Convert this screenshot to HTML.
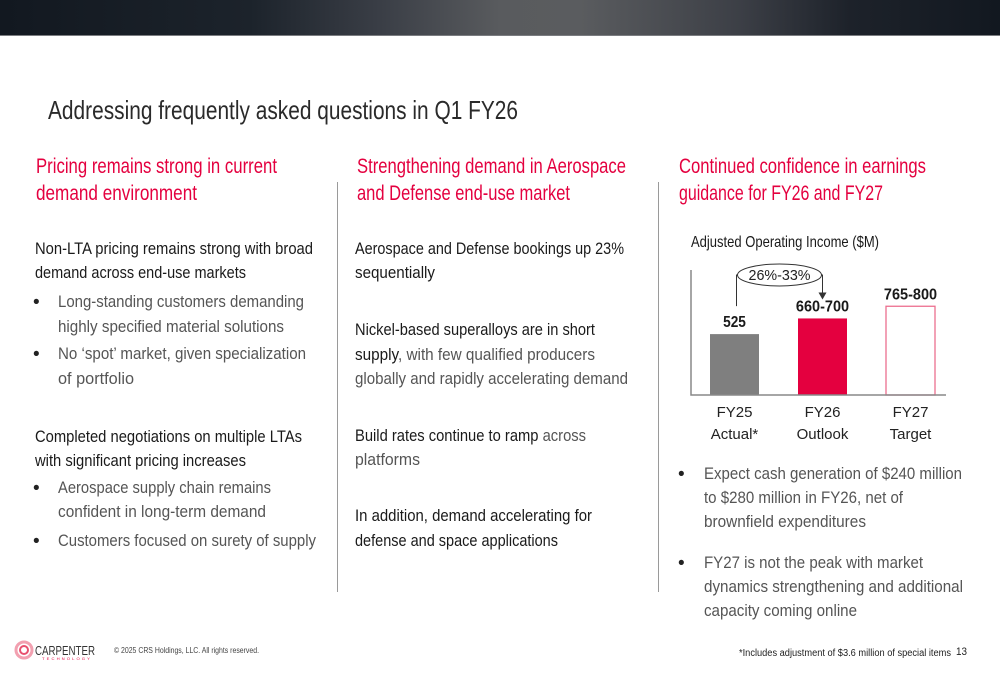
<!DOCTYPE html>
<html><head><meta charset="utf-8">
<style>
html,body{margin:0;padding:0;}
body{width:1000px;height:685px;position:relative;overflow:hidden;background:#fff;font-family:"Liberation Sans Narrow","Liberation Sans",sans-serif;}
#hdr{position:absolute;left:0;top:0;width:1000px;height:35px;background:linear-gradient(90deg,#121820 0%,#1c232b 25%,#3a3e46 38%,#595b5e 50%,#5a5c5f 58%,#3c3f46 74%,#1d222a 85%,#121820 100%);border-bottom:1px solid #7a7c80;}
.ln{position:absolute;white-space:nowrap;transform-origin:0 50%;line-height:1;}
.t{font-size:26px;color:#2a2a2a;}
.h{font-size:21px;color:#e4003f;}
.b{font-size:17px;color:#1a1a1a;}
.l{font-size:17px;color:#555;}
.s{color:#1a1a1a;}
.div{position:absolute;width:1px;background:#9a9a9a;top:182px;height:410px;}
.bul{position:absolute;font-size:19px;color:#222;line-height:1;}
</style></head><body>
<div id="hdr"></div>
<div class="ln t" data-w="470" style="left:48px;top:97px">Addressing frequently asked questions in Q1 FY26</div>

<div class="div" style="left:337px"></div>
<div class="div" style="left:658px"></div>

<!-- column 1 -->
<div class="ln h" data-w="241" style="left:36px;top:156px">Pricing remains strong in current</div>
<div class="ln h" data-w="161" style="left:36px;top:183px">demand environment</div>
<div class="ln b" data-w="278" style="left:35px;top:240px">Non-LTA pricing remains strong with broad</div>
<div class="ln b" data-w="211" style="left:35px;top:264px">demand across end-use markets</div>
<div class="bul" style="left:33px;top:293px">•</div>
<div class="ln l" data-w="246" style="left:58px;top:293px">Long-standing customers demanding</div>
<div class="ln l" data-w="226" style="left:58px;top:318px">highly specified material solutions</div>
<div class="bul" style="left:33px;top:345px">•</div>
<div class="ln l" data-w="248" style="left:58px;top:345px">No ‘spot’ market, given specialization</div>
<div class="ln l" data-w="76" style="left:58px;top:370px">of portfolio</div>
<div class="ln b" data-w="267" style="left:35px;top:428px">Completed negotiations on multiple LTAs</div>
<div class="ln b" data-w="211" style="left:35px;top:452px">with significant pricing increases</div>
<div class="bul" style="left:33px;top:479px">•</div>
<div class="ln l" data-w="213" style="left:58px;top:479px">Aerospace supply chain remains</div>
<div class="ln l" data-w="208" style="left:58px;top:503px">confident in long-term demand</div>
<div class="bul" style="left:33px;top:532px">•</div>
<div class="ln l" data-w="258" style="left:58px;top:532px">Customers focused on surety of supply</div>

<!-- column 2 -->
<div class="ln h" data-w="269" style="left:357px;top:156px">Strengthening demand in Aerospace</div>
<div class="ln h" data-w="213" style="left:357px;top:183px">and Defense end-use market</div>
<div class="ln b" data-w="269" style="left:355px;top:240px">Aerospace and Defense bookings up 23%</div>
<div class="ln b" data-w="80" style="left:355px;top:264px">sequentially</div>
<div class="ln b" data-w="240" style="left:355px;top:321px">Nickel-based superalloys are in short</div>
<div class="ln l" data-w="240" style="left:355px;top:346px"><span class="s">supply</span>, with few qualified producers</div>
<div class="ln l" data-w="273" style="left:355px;top:370px">globally and rapidly accelerating demand</div>
<div class="ln l" data-w="231" style="left:355px;top:427px"><span class="s">Build rates continue to ramp</span> across</div>
<div class="ln l" data-w="65" style="left:355px;top:451px">platforms</div>
<div class="ln b" data-w="237" style="left:355px;top:507px">In addition, demand accelerating for</div>
<div class="ln b" data-w="203" style="left:355px;top:532px">defense and space applications</div>

<!-- column 3 -->
<div class="ln h" data-w="247" style="left:679px;top:156px">Continued confidence in earnings</div>
<div class="ln h" data-w="204" style="left:679px;top:183px">guidance for FY26 and FY27</div>
<div class="ln" data-w="188" style="left:691px;top:235px;font-size:16px;color:#1a1a1a">Adjusted Operating Income ($M)</div>

<svg id="chart" style="position:absolute;left:0;top:0" width="1000" height="685"></svg>

<div class="bul" style="left:678px;top:465px">•</div>
<div class="ln l" data-w="258" style="left:704px;top:465px">Expect cash generation of $240 million</div>
<div class="ln l" data-w="199" style="left:704px;top:489px">to $280 million in FY26, net of</div>
<div class="ln l" data-w="162" style="left:704px;top:513px">brownfield expenditures</div>
<div class="bul" style="left:678px;top:554px">•</div>
<div class="ln l" data-w="219" style="left:704px;top:554px">FY27 is not the peak with market</div>
<div class="ln l" data-w="259" style="left:704px;top:578px">dynamics strengthening and additional</div>
<div class="ln l" data-w="153" style="left:704px;top:602px">capacity coming online</div>

<!-- footer -->
<svg style="position:absolute;left:14px;top:640px" width="20" height="20">
<circle cx="10" cy="10" r="8" fill="none" stroke="#f2a0b0" stroke-width="3"/><circle cx="10" cy="10" r="4" fill="none" stroke="#e8506e" stroke-width="2"/></svg>
<div class="ln" data-w="60" style="left:35px;top:644px;font-size:13px;color:#333">CARPENTER</div>
<div class="ln" data-w="50" style="left:42px;top:657px;font-size:4px;color:#e4003f;letter-spacing:2px">TECHNOLOGY</div>
<div class="ln" data-w="145" style="left:114px;top:647px;font-size:8px;color:#444">© 2025 CRS Holdings, LLC. All rights reserved.</div>
<div class="ln" data-w="212" style="left:739px;top:649px;font-size:10px;color:#222">*Includes adjustment of $3.6 million of special items</div>
<div class="ln" data-w="11" style="left:956px;top:647px;font-size:11px;color:#222">13</div>

<script>
const categories=["FY25","FY26","FY27"];
const subLabels=["Actual*","Outlook","Target"];
const barValues=[525,660,765];
const valueLabels=["525","660-700","765-800"];
const growthLabel="26%-33%";

const NS="http://www.w3.org/2000/svg";
const svg=document.getElementById('chart');
const x0=691,x1=946,base=395,k=0.116;
const bandW=88,barW=49,firstCenter=734.5;
const FF="'Liberation Sans Narrow','Liberation Sans',sans-serif";
function xc(i){return firstCenter+i*bandW;}
function yv(v){return base-v*k;}
function mk(tag,attrs){const e=document.createElementNS(NS,tag);for(const a in attrs)e.setAttribute(a,attrs[a]);svg.appendChild(e);return e;}
const fills=["#7f7f7f","#e4003f","#ffffff"];
const strokes=["none","none","#ec6f8f"];
barValues.forEach((v,i)=>{
  const r=mk('rect',{x:xc(i)-barW/2,y:yv(v),width:barW,height:base-yv(v),fill:fills[i],stroke:strokes[i],'stroke-width':1.3});
  
  
  const t=mk('text',{x:xc(i),y:yv(v)-7,'text-anchor':'middle','font-size':16,'font-weight':'bold',fill:'#1a1a1a','font-family':FF,textLength:valueLabels[i].length*7.6,lengthAdjust:'spacingAndGlyphs'});
  t.textContent=valueLabels[i];
  
  
  const c1=mk('text',{x:xc(i),y:417,'text-anchor':'middle','font-size':15,fill:'#222','font-family':FF});
  c1.textContent=categories[i];
  
  
  const c2=mk('text',{x:xc(i),y:439,'text-anchor':'middle','font-size':15,fill:'#222','font-family':FF});
  c2.textContent=subLabels[i];
  
  
});
const ax=mk('path',{d:`M${x0} 270 V${base} H${x1}`,fill:'none',stroke:'#888','stroke-width':1.5});


const ex=(xc(0)+xc(1))/2+1, ey=275;
const conn=mk('path',{d:`M${xc(0)+2} ${yv(barValues[0])-28} V${ey} H${ex-42} M${ex+42} ${ey} H${xc(1)} V${yv(barValues[1])-22}`,fill:'none',stroke:'#333','stroke-width':1});


const ar=mk('path',{d:`M${xc(1)-4} ${yv(barValues[1])-26} L${xc(1)+4} ${yv(barValues[1])-26} L${xc(1)} ${yv(barValues[1])-19} Z`,fill:'#333'});


const el=mk('ellipse',{cx:ex,cy:ey,rx:42,ry:11,fill:'#fff',stroke:'#333','stroke-width':1});


const gt=mk('text',{x:ex,y:ey+5,'text-anchor':'middle','font-size':15,fill:'#222','font-family':FF,textLength:62,lengthAdjust:'spacingAndGlyphs'});
gt.textContent=growthLabel;



document.querySelectorAll('.ln[data-w]').forEach(e=>{
  const w=e.getBoundingClientRect().width,t=+e.getAttribute('data-w');
  if(w>0)e.style.transform='scaleX('+(t/w)+')';
});
</script>
</body></html>
